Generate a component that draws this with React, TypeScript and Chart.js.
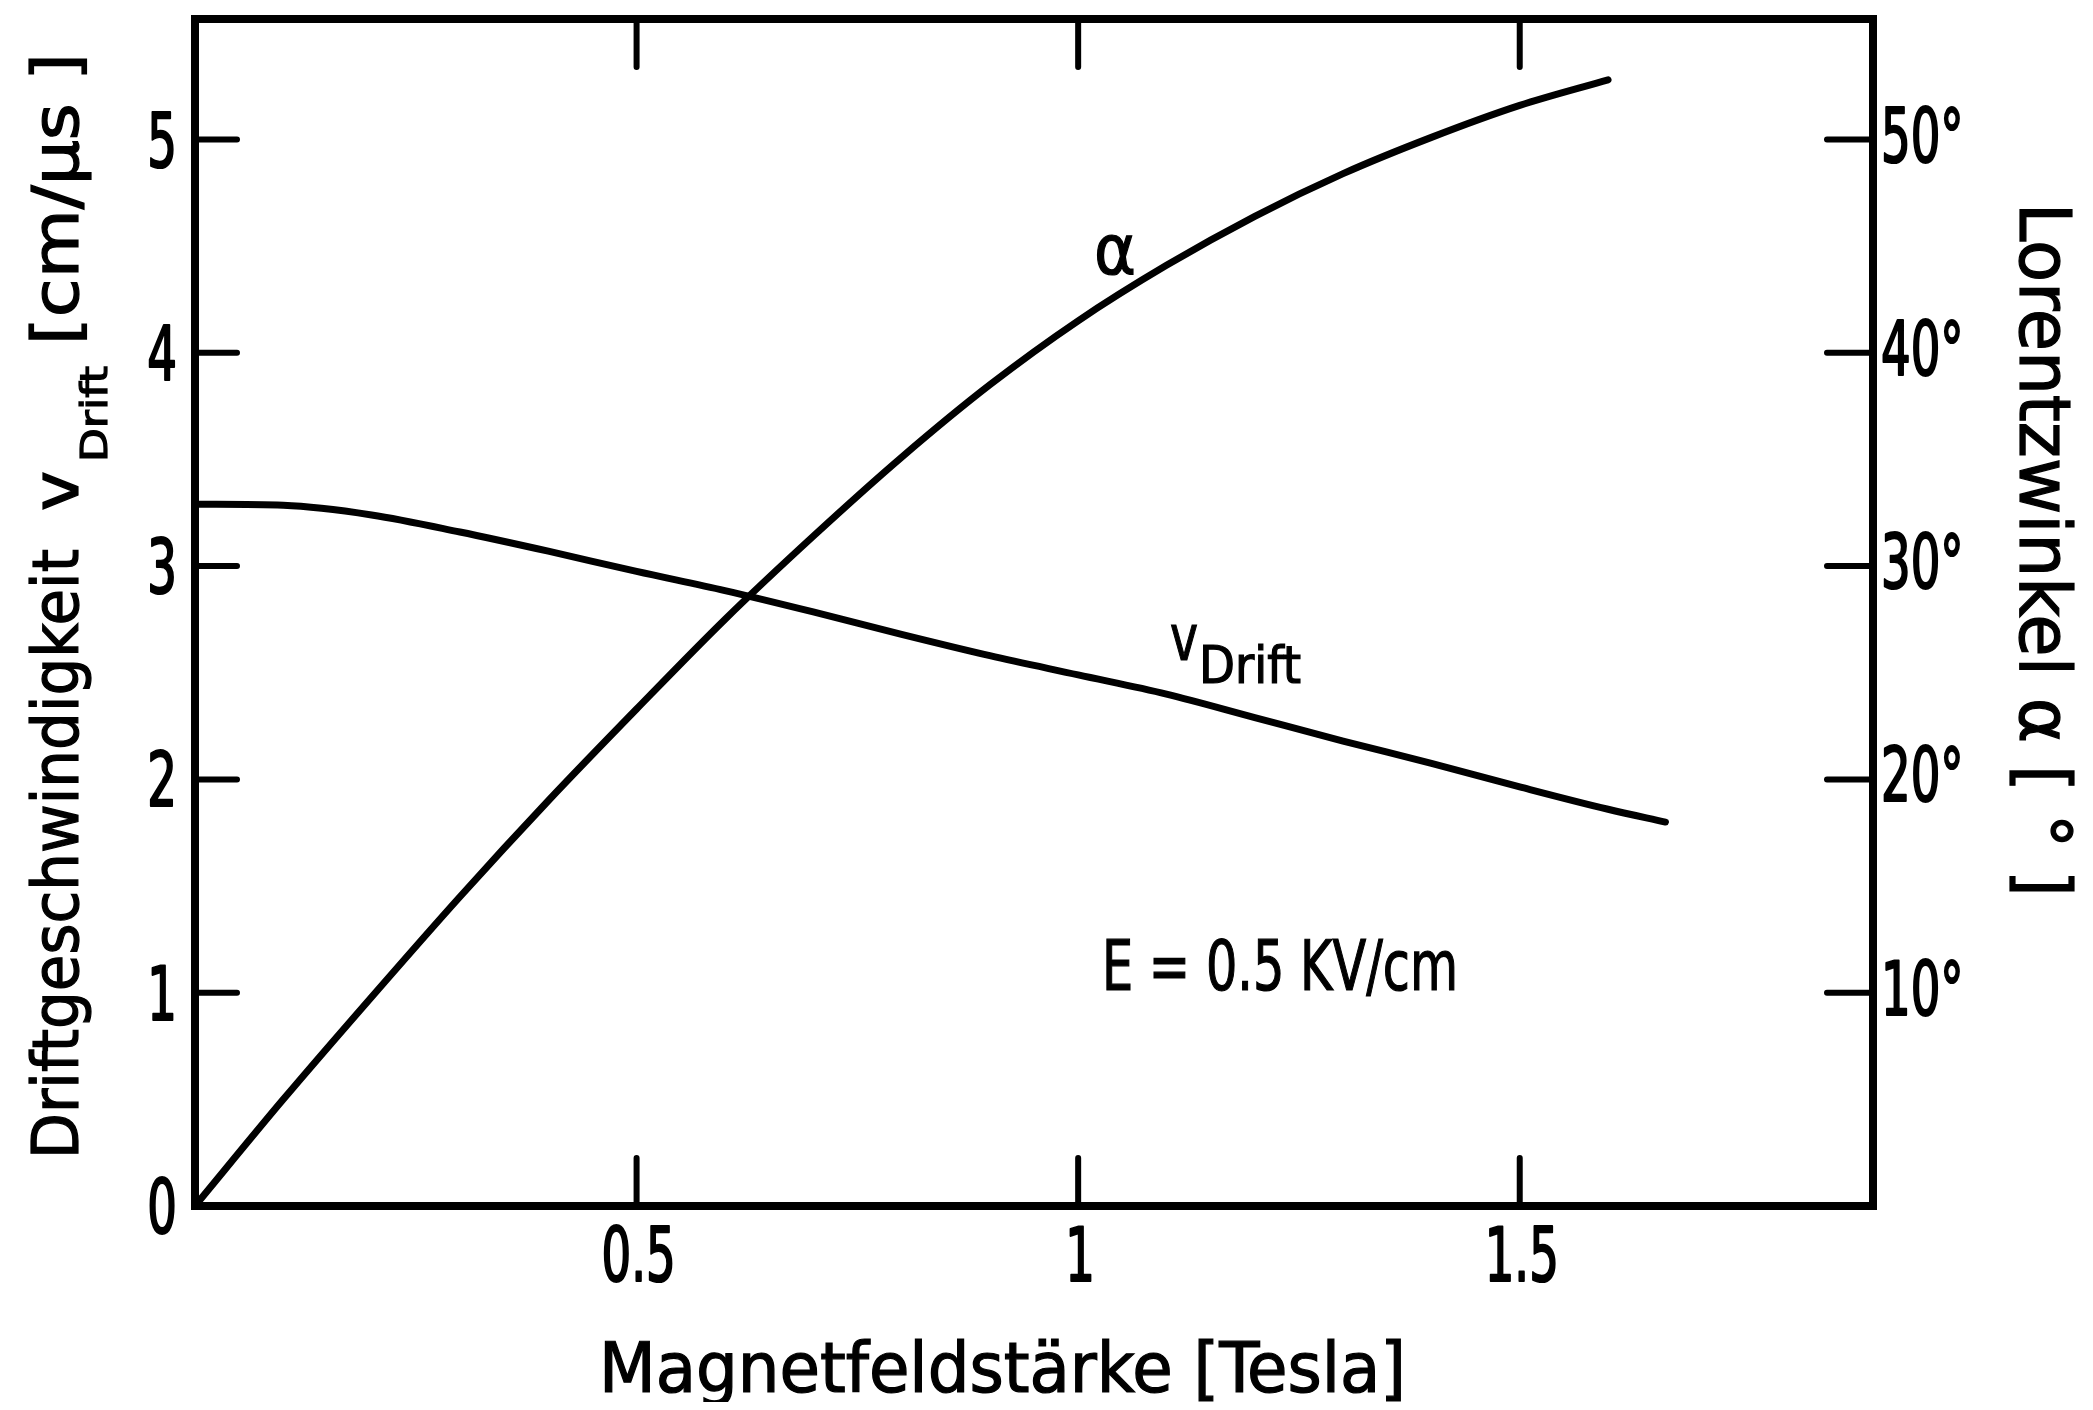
import React, { useEffect, useRef } from 'react';
import { Chart, registerables } from 'chart.js';

Chart.register(...registerables);

// ---- data ----
const fieldV = [0, 0.1, 0.2, 0.3, 0.4, 0.5, 0.6, 0.7, 0.8, 0.9, 1.0, 1.1, 1.2, 1.3, 1.4, 1.5, 1.6, 1.665];
const vDrift = [3.29, 3.285, 3.24, 3.16, 3.07, 2.975, 2.885, 2.785, 2.68, 2.58, 2.49, 2.4, 2.29, 2.18, 2.075, 1.965, 1.86, 1.8];

const fieldA = [0, 0.1, 0.2, 0.3, 0.4, 0.5, 0.6, 0.7, 0.8, 0.9, 1.0, 1.1, 1.2, 1.3, 1.4, 1.5, 1.6];
const alphaDeg = [0, 5.0, 9.8, 14.5, 19.0, 23.3, 27.5, 31.4, 35.1, 38.5, 41.5, 44.1, 46.4, 48.4, 50.1, 51.6, 52.8];

const xTicks = [0.5, 1, 1.5];
const yLeftTicks = [0, 1, 2, 3, 4, 5];
const yRightTicks = [10, 20, 30, 40, 50];

const xTitle = 'Magnetfeldstärke [Tesla]';
const yTitleMain = 'Driftgeschwindigkeit';
const yTitleSym = 'v';
const yTitleSub = 'Drift';
const yTitleUnit = '[cm/µs ]';
const y2Title = 'Lorentzwinkel α [ ° ]';
const alphaLabel = 'α';
const vLabel = 'v';
const vLabelSub = 'Drift';
const fieldNote = 'E = 0.5 KV/cm';

const FONT = '"DejaVu Sans Condensed", "DejaVu Sans", sans-serif';
const TICK_SIZE = 74;
const TICK_SQUEEZE = 0.7;

function fitText(ctx: CanvasRenderingContext2D, text: string, x: number, y: number, width: number, size: number) {
  ctx.save();
  ctx.font = `${size}px ${FONT}`;
  ctx.textAlign = 'left';
  ctx.textBaseline = 'alphabetic';
  const w = ctx.measureText(text).width;
  ctx.translate(x, y);
  ctx.scale(width / w, 1);
  ctx.lineWidth = 1.2;
  ctx.fillText(text, 0, 0);
  ctx.strokeText(text, 0, 0);
  ctx.restore();
}

function squeezeText(ctx: CanvasRenderingContext2D, text: string, x: number, y: number, align: 'left' | 'right' | 'center') {
  ctx.save();
  ctx.font = `${TICK_SIZE}px ${FONT}`;
  ctx.textAlign = align;
  ctx.textBaseline = 'alphabetic';
  ctx.translate(x, y);
  ctx.scale(TICK_SQUEEZE, 1);
  ctx.lineWidth = 2.2;
  ctx.lineJoin = 'round';
  ctx.fillText(text, 0, 0);
  ctx.strokeText(text, 0, 0);
  ctx.restore();
}

const framePlugin = {
  id: 'framePlugin',
  afterDraw(chart: any) {
    const { ctx, chartArea } = chart;
    const { left, right, top, bottom } = chartArea;
    const xs = chart.scales.x;
    const ys = chart.scales.y;
    const ys2 = chart.scales.y2;
    ctx.save();
    ctx.strokeStyle = '#000';
    ctx.fillStyle = '#000';
    ctx.lineCap = 'round';
    ctx.lineWidth = 8;
    ctx.strokeRect(left, top, right - left, bottom - top);
    ctx.lineWidth = 6;
    ctx.beginPath();
    for (const t of xs.ticks) {
      const px = xs.getPixelForValue(t.value);
      ctx.moveTo(px, bottom);
      ctx.lineTo(px, bottom - 48);
      ctx.moveTo(px, top);
      ctx.lineTo(px, top + 48);
    }
    for (const t of ys.ticks) {
      if (t.value === 0) continue;
      const py = ys.getPixelForValue(t.value);
      ctx.moveTo(left, py);
      ctx.lineTo(left + 42, py);
    }
    for (const t of ys2.ticks) {
      const py = ys2.getPixelForValue(t.value);
      ctx.moveTo(right, py);
      ctx.lineTo(right - 46, py);
    }
    ctx.stroke();

    // tick labels, positioned by the scales
    for (const t of xs.ticks) {
      squeezeText(ctx, String(t.value), xs.getPixelForValue(t.value) + 2, bottom + 75, 'center');
    }
    for (const t of ys.ticks) {
      squeezeText(ctx, String(t.value), left - 18, ys.getPixelForValue(t.value) + 27, 'right');
    }
    for (const t of ys2.ticks) {
      squeezeText(ctx, t.value + '°', right + 8, ys2.getPixelForValue(t.value) + 22, 'left');
    }

    // x title
    fitText(ctx, xTitle, 591, 1384, 807, 69);

    // left title (rotated, reading bottom to top)
    ctx.save();
    ctx.translate(70, 1151);
    ctx.rotate(-Math.PI / 2);
    fitText(ctx, yTitleMain, 0, 0, 610, 64);
    fitText(ctx, yTitleSym, 648, 0, 40, 64);
    fitText(ctx, yTitleSub, 697, 29, 96, 38);
    fitText(ctx, yTitleUnit, 814, 0, 292, 64);
    ctx.restore();

    // right title (rotated, reading top to bottom)
    ctx.save();
    ctx.translate(2012, 195);
    ctx.rotate(Math.PI / 2);
    fitText(ctx, y2Title, 0, 0, 694, 72);
    ctx.restore();

    // annotations
    fitText(ctx, alphaLabel, 1086, 266, 42, 70);
    fitText(ctx, vLabel, 1162, 652, 28, 64);
    fitText(ctx, vLabelSub, 1191, 675, 102, 52);
    fitText(ctx, fieldNote, 1094, 982, 356, 69);
    ctx.restore();
  },
};

export default function App() {
  const ref = useRef<HTMLCanvasElement | null>(null);
  useEffect(() => {
    if (!ref.current) return;
    const lineStyle = {
      borderColor: '#000',
      borderWidth: 7,
      pointRadius: 0,
      cubicInterpolationMode: 'monotone',
      borderCapStyle: 'round',
      borderJoinStyle: 'round',
    };
    const chart = new Chart(ref.current, {
      type: 'line',
      data: {
        datasets: [
          { label: 'vDrift', data: fieldV.map((x, i) => ({ x, y: vDrift[i] })), yAxisID: 'y', ...lineStyle },
          { label: 'alpha', data: fieldA.map((x, i) => ({ x, y: alphaDeg[i] })), yAxisID: 'y2', ...lineStyle },
        ],
      },
      options: {
        animation: false,
        responsive: false,
        layout: { padding: { top: 11, left: 0, right: 0, bottom: 0 } },
        plugins: { legend: { display: false }, tooltip: { enabled: false } },
        scales: {
          x: {
            type: 'linear',
            position: 'bottom',
            min: 0,
            max: 1.9,
            grid: { display: false, drawTicks: false },
            border: { display: false },
            afterBuildTicks: (s: any) => { s.ticks = xTicks.map((v) => ({ value: v })); },
            afterFit: (s: any) => { s.height = 196; s.paddingLeft = 0; s.paddingRight = 0; },
            ticks: { display: false },
          },
          y: {
            type: 'linear',
            position: 'left',
            min: 0,
            max: 5.565,
            grid: { display: false, drawTicks: false },
            border: { display: false },
            afterBuildTicks: (s: any) => { s.ticks = yLeftTicks.map((v) => ({ value: v })); },
            afterFit: (s: any) => { s.width = 187; s.paddingTop = 0; s.paddingBottom = 0; },
            ticks: { display: false },
          },
          y2: {
            type: 'linear',
            position: 'right',
            min: 0,
            max: 55.65,
            grid: { display: false, drawTicks: false },
            border: { display: false },
            afterBuildTicks: (s: any) => { s.ticks = yRightTicks.map((v) => ({ value: v })); },
            afterFit: (s: any) => { s.width = 212; s.paddingTop = 0; s.paddingBottom = 0; },
            ticks: { display: false },
          },
        },
      },
      plugins: [framePlugin],
    } as any);
    return () => chart.destroy();
  }, []);
  return (
    <canvas ref={ref} width={2077} height={1394} style={{ display: 'block', width: 2077, height: 1394 }} />
  );
}
